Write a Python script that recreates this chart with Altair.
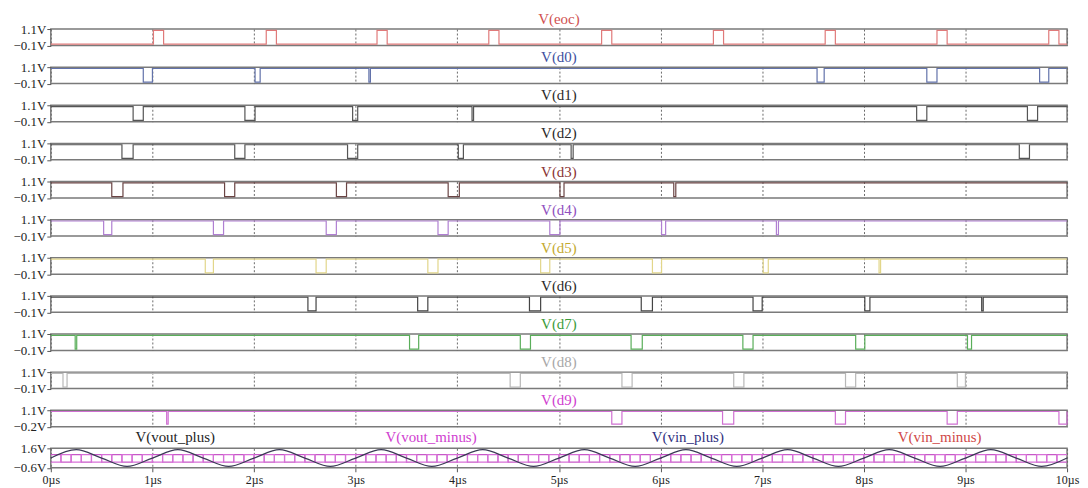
import altair as alt
import pandas as pd

# ---------------- data ----------------
x_ticks = [0, 1, 2, 3, 4, 5, 6, 7, 8, 9, 10]

# pulses (start_us, end_us); eoc pulses go high, d0..d9 pulses go low
eoc = [(1.01, 1.11), (2.12, 2.22), (3.21, 3.31), (4.31, 4.41), (5.42, 5.52),
       (6.52, 6.62), (7.62, 7.72), (8.72, 8.82), (9.82, 9.92)]
d0 = [(0.91, 1.00), (2.01, 2.06), (3.13, 3.145), (7.54, 7.61), (8.62, 8.72), (9.73, 9.82)]
d1 = [(0.81, 0.91), (1.91, 2.01), (2.97, 3.02), (4.145, 4.16), (8.52, 8.62), (9.61, 9.71)]
d2 = [(0.70, 0.81), (1.81, 1.91), (2.92, 3.02), (4.01, 4.06), (5.12, 5.14), (9.53, 9.63)]
d3 = [(0.60, 0.71), (1.71, 1.81), (2.81, 2.91), (3.91, 4.02), (5.01, 5.05), (6.13, 6.15)]
d4 = [(0.52, 0.60), (1.60, 1.70), (2.71, 2.81), (3.81, 3.91), (4.91, 5.01), (6.01, 6.05), (7.14, 7.16)]
d5 = [(1.52, 1.60), (2.61, 2.71), (3.71, 3.81), (4.82, 4.91), (5.92, 6.01), (7.01, 7.06), (8.15, 8.165)]
d6 = [(2.53, 2.61), (3.61, 3.71), (4.71, 4.82), (5.81, 5.92), (6.91, 7.00), (8.01, 8.06), (9.16, 9.175)]
d7 = [(0.24, 0.255), (3.53, 3.62), (4.62, 4.72), (5.71, 5.82), (6.81, 6.91), (7.92, 8.01), (9.02, 9.06)]
d8 = [(0.12, 0.16), (4.52, 4.62), (5.62, 5.72), (6.72, 6.82), (7.82, 7.92), (8.92, 9.00)]
d9 = [(1.14, 1.155), (5.52, 5.62), (6.61, 6.72), (7.72, 7.82), (8.82, 8.92), (9.92, 10.0)]

# bottom panel: input sine sampled at quarter periods (0.25 us steps)
vin_plus = [0.5, 1.45, 0.5, -0.45, 0.5, 1.45, 0.5, -0.45, 0.5, 1.45,
            0.5, -0.45, 0.5, 1.45, 0.5, -0.45, 0.5, 1.45, 0.5, -0.45,
            0.5, 1.45, 0.5, -0.45, 0.5, 1.45, 0.5, -0.45, 0.5, 1.45,
            0.5, -0.45, 0.5, 1.45, 0.5, -0.45, 0.5, 1.45, 0.5, -0.45, 0.5]
# comparator outputs, one level per 0.1 us clock step
vout_plus = [
    0.9, 0.05, 0.9, 0.05, 0.9, 0.05, 0.9, 0.05, 0.9, 0.05,
    0.9, 0.05, 0.9, 0.05, 0.9, 0.05, 0.9, 0.05, 0.9, 0.05,
    0.9, 0.05, 0.9, 0.05, 0.9, 0.05, 0.9, 0.05, 0.9, 0.05,
    0.9, 0.05, 0.9, 0.05, 0.9, 0.05, 0.9, 0.05, 0.9, 0.05,
    0.9, 0.05, 0.9, 0.05, 0.9, 0.05, 0.9, 0.05, 0.9, 0.05,
    0.9, 0.05, 0.9, 0.05, 0.9, 0.05, 0.9, 0.05, 0.9, 0.05,
    0.9, 0.05, 0.9, 0.05, 0.9, 0.05, 0.9, 0.05, 0.9, 0.05,
    0.9, 0.05, 0.9, 0.05, 0.9, 0.05, 0.9, 0.05, 0.9, 0.05,
    0.9, 0.05, 0.9, 0.05, 0.9, 0.05, 0.9, 0.05, 0.9, 0.05,
    0.9, 0.05, 0.9, 0.05, 0.9, 0.05, 0.9, 0.05, 0.9, 0.05]
vout_minus = [
    0.05, 0.9, 0.05, 0.9, 0.05, 0.9, 0.05, 0.9, 0.05, 0.9,
    0.05, 0.9, 0.05, 0.9, 0.05, 0.9, 0.05, 0.9, 0.05, 0.9,
    0.05, 0.9, 0.05, 0.9, 0.05, 0.9, 0.05, 0.9, 0.05, 0.9,
    0.05, 0.9, 0.05, 0.9, 0.05, 0.9, 0.05, 0.9, 0.05, 0.9,
    0.05, 0.9, 0.05, 0.9, 0.05, 0.9, 0.05, 0.9, 0.05, 0.9,
    0.05, 0.9, 0.05, 0.9, 0.05, 0.9, 0.05, 0.9, 0.05, 0.9,
    0.05, 0.9, 0.05, 0.9, 0.05, 0.9, 0.05, 0.9, 0.05, 0.9,
    0.05, 0.9, 0.05, 0.9, 0.05, 0.9, 0.05, 0.9, 0.05, 0.9,
    0.05, 0.9, 0.05, 0.9, 0.05, 0.9, 0.05, 0.9, 0.05, 0.9,
    0.05, 0.9, 0.05, 0.9, 0.05, 0.9, 0.05, 0.9, 0.05, 0.9]

digital_names = ["V(eoc)", "V(d0)", "V(d1)", "V(d2)", "V(d3)", "V(d4)",
                 "V(d5)", "V(d6)", "V(d7)", "V(d8)", "V(d9)"]
digital_pulses = [eoc, d0, d1, d2, d3, d4, d5, d6, d7, d8, d9]
digital_base = [0.0] + [1.0] * 10        # idle level
digital_active = [1.0] + [0.0] * 10      # pulse level
digital_ymin = [-0.1] * 10 + [-0.2]
digital_ymax = [1.1] * 11
analog_names = ["V(vout_plus)", "V(vout_minus)", "V(vin_plus)", "V(vin_minus)"]

# ---------------- styles ----------------
FONT = "Liberation Serif"
W = 1021
H = 16.5
H_LAST = 19.5
SPACING = 21.3
line_colors = ["#e07a7a", "#6272aa", "#555555", "#555555", "#6a4444", "#b07fd2",
               "#e2d68a", "#444444", "#5aae5a", "#b8b8b8", "#d070d2"]
title_colors = ["#d05050", "#4050a0", "#2a2a2a", "#2a2a2a", "#8a3434", "#9050c0",
                "#c4aa30", "#2a2a2a", "#3c9c3c", "#a8a8a8", "#d040d0"]
analog_title_colors = ["#1e1e1e", "#d040d0", "#303080", "#d04848"]
analog_title_x = [125, 382, 640, 893]
GRID = dict(grid=True, gridDash=[2, 2], gridColor="#6a6a6a", gridWidth=1, gridOpacity=1)


def step_table(pulses, base, active):
    pts = [(0.0, base)]
    for s, e in pulses:
        pts += [(s, base), (s, active), (e, active), (e, base)]
    pts.append((10.0, base))
    return pd.DataFrame({"t": [p[0] for p in pts], "v": [p[1] for p in pts],
                         "i": list(range(len(pts)))})


def x_enc(show):
    if show:
        ax = alt.Axis(values=x_ticks, title=None, domain=False, ticks=True, tickSize=4,
                      tickColor="#555555", labels=True, labelFlush=False,
                      labelExpr="datum.value + 'µs'", labelFont=FONT, labelFontSize=12,
                      labelColor="#222222", labelPadding=3, **GRID)
    else:
        ax = alt.Axis(values=x_ticks, title=None, domain=False, ticks=False,
                      labels=False, **GRID)
    return alt.X("t:Q", scale=alt.Scale(domain=[0, 10], nice=False, zero=False), axis=ax)


def y_enc(ymin, ymax):
    ax = alt.Axis(values=[ymin, ymax], title=None, domain=False, grid=False,
                  tickSize=4, tickColor="#555555", labelOverlap=False,
                  labelExpr="format(datum.value, '.1f') + 'V'", labelFont=FONT,
                  labelFontSize=13, labelColor="#222222", labelPadding=1)
    return alt.Y("v:Q", scale=alt.Scale(domain=[ymin, ymax], nice=False, zero=False), axis=ax)


panels = []
for k in range(11):
    df = step_table(digital_pulses[k], digital_base[k], digital_active[k])
    line = alt.Chart(df).mark_line(color=line_colors[k], strokeWidth=1.2).encode(
        x=x_enc(False), y=y_enc(digital_ymin[k], digital_ymax[k]), order="i:Q")
    ttl = alt.Chart(pd.DataFrame({"label": [digital_names[k]]})).mark_text(
        font=FONT, fontSize=15, color=title_colors[k], baseline="middle", align="center"
    ).encode(text="label:N", x=alt.value(W / 2), y=alt.value(-10))
    panels.append(alt.layer(line, ttl).properties(width=W, height=H))

# bottom analog panel
sine_df = pd.DataFrame({"t": [i * 0.25 for i in range(len(vin_plus))], "v": vin_plus})
clk_t = [i * 0.1 for i in range(len(vout_plus) + 1)]
vp_df = pd.DataFrame({"t": clk_t, "v": vout_plus + vout_plus[-1:]})
vm_df = pd.DataFrame({"t": clk_t, "v": vout_minus + vout_minus[-1:]})

vp_line = alt.Chart(vp_df).mark_line(color="#c858c8", strokeWidth=1.2, interpolate="step-after").encode(
    x=x_enc(True), y=y_enc(-0.6, 1.6))
vm_line = alt.Chart(vm_df).mark_line(color="#d870d8", strokeWidth=1.2, interpolate="step-after").encode(
    x=x_enc(True), y=y_enc(-0.6, 1.6))
sine_line = alt.Chart(sine_df).mark_line(color="#3a3a55", strokeWidth=1.2, interpolate="monotone").encode(
    x=x_enc(True), y=y_enc(-0.6, 1.6))
atitles = []
for j in range(4):
    atitles.append(alt.Chart(pd.DataFrame({"label": [analog_names[j]]})).mark_text(
        font=FONT, fontSize=15, color=analog_title_colors[j], baseline="middle", align="center"
    ).encode(text="label:N", x=alt.value(analog_title_x[j]), y=alt.value(-11)))
panels.append(alt.layer(vp_line, vm_line, sine_line, *atitles).properties(width=W, height=H_LAST))

chart = alt.vconcat(*panels, spacing=SPACING, bounds="flush").properties(
    padding={"left": 4, "top": 2, "right": 0, "bottom": 2},
    background="white",
).configure_view(stroke="#7a7a7a", strokeWidth=1.5)

chart.save("out.html", embed_options={"renderer": "svg", "actions": False})
